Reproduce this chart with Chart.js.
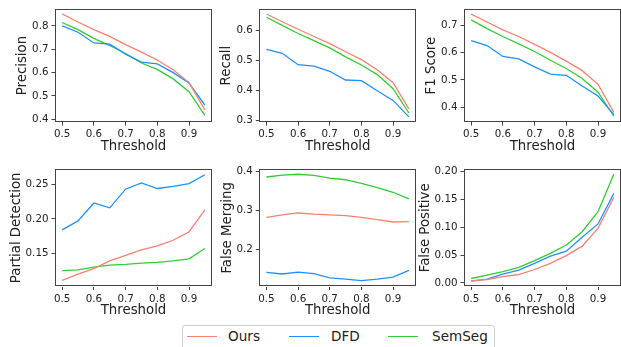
<!DOCTYPE html>
<html>
<head>
<meta charset="utf-8">
<script src="https://cdn.jsdelivr.net/npm/chart.js@4.4.1/dist/chart.umd.min.js"></script>
<style>
  body { margin: 0; background: #fff; }
  #wrap { position: relative; width: 621px; height: 347px; overflow: hidden; background: #fff; font-family: "DejaVu Sans"; }
  #wrap canvas { position: absolute; }
  #legend { position: absolute; left: 182px; top: 325px; width: 313px; height: 28px; border: 1px solid #d0d0d0; border-radius: 3px; box-sizing: border-box; background: #fff; }
  .lg-line { position: absolute; top: 10px; width: 30px; height: 0; border-top: 1.3px solid; }
  .lg-text { position: absolute; top: 1px; font-size: 13.6px; color: #222; line-height: 18px; }
</style>
</head>
<body>
<div id="wrap">
  <canvas id="c0"></canvas>
  <canvas id="c1"></canvas>
  <canvas id="c2"></canvas>
  <canvas id="c3"></canvas>
  <canvas id="c4"></canvas>
  <canvas id="c5"></canvas>
  <div id="legend">
    <div class="lg-line" style="left:4px;border-color:#fa8072"></div>
    <div class="lg-text" style="left:45px">Ours</div>
    <div class="lg-line" style="left:106px;border-color:#1e90ff"></div>
    <div class="lg-text" style="left:148px">DFD</div>
    <div class="lg-line" style="left:205px;border-color:#32cd32"></div>
    <div class="lg-text" style="left:249px">SemSeg</div>
  </div>
</div>
<script>
const thresholds = [0.5, 0.55, 0.6, 0.65, 0.7, 0.75, 0.8, 0.85, 0.9, 0.95];
const xTicks = [0.5, 0.6, 0.7, 0.8, 0.9];
const seriesNames = ["Ours", "DFD", "SemSeg"];

const precisionOurs = [0.852, 0.817, 0.784, 0.755, 0.72, 0.688, 0.654, 0.612, 0.557, 0.44];
const precisionDFD = [0.80, 0.773, 0.727, 0.722, 0.679, 0.645, 0.637, 0.60, 0.555, 0.46];
const precisionSemSeg = [0.815, 0.784, 0.747, 0.716, 0.682, 0.641, 0.614, 0.573, 0.518, 0.416];
const precisionTicks = [0.4, 0.5, 0.6, 0.7, 0.8];

const recallOurs = [0.656, 0.630, 0.605, 0.581, 0.557, 0.530, 0.504, 0.470, 0.427, 0.340];
const recallDFD = [0.538, 0.525, 0.487, 0.482, 0.465, 0.436, 0.434, 0.400, 0.368, 0.313];
const recallSemSeg = [0.645, 0.618, 0.591, 0.567, 0.543, 0.513, 0.486, 0.454, 0.407, 0.326];
const recallTicks = [0.3, 0.4, 0.5, 0.6];

const f1Ours = [0.741, 0.712, 0.683, 0.659, 0.630, 0.601, 0.569, 0.534, 0.484, 0.381];
const f1DFD = [0.644, 0.626, 0.586, 0.577, 0.548, 0.521, 0.517, 0.478, 0.441, 0.373];
const f1SemSeg = [0.720, 0.688, 0.659, 0.632, 0.604, 0.572, 0.542, 0.505, 0.455, 0.367];
const f1Ticks = [0.4, 0.5, 0.6, 0.7];

const partialOurs = [0.111, 0.120, 0.128, 0.139, 0.147, 0.155, 0.161, 0.169, 0.181, 0.213];
const partialDFD = [0.184, 0.197, 0.223, 0.216, 0.243, 0.252, 0.244, 0.247, 0.251, 0.264];
const partialSemSeg = [0.125, 0.126, 0.130, 0.133, 0.134, 0.136, 0.137, 0.139, 0.142, 0.157];
const partialTicks = [0.15, 0.20, 0.25];

const mergingOurs = [0.283, 0.289, 0.294, 0.291, 0.289, 0.287, 0.283, 0.277, 0.271, 0.272];
const mergingDFD = [0.142, 0.138, 0.143, 0.139, 0.128, 0.125, 0.121, 0.125, 0.130, 0.147];
const mergingSemSeg = [0.386, 0.391, 0.393, 0.390, 0.383, 0.379, 0.370, 0.359, 0.347, 0.330];
const mergingTicks = [0.2, 0.3, 0.4];

const fpOurs = [0.0036, 0.006, 0.011, 0.015, 0.024, 0.035, 0.049, 0.066, 0.098, 0.154];
const fpDFD = [0.003, 0.0066, 0.0156, 0.023, 0.035, 0.048, 0.057, 0.082, 0.106, 0.161];
const fpSemSeg = [0.0078, 0.014, 0.020, 0.028, 0.040, 0.053, 0.068, 0.092, 0.128, 0.196];
const fpTicks = [0.00, 0.05, 0.10, 0.15, 0.20];

const colors = ["#fa8072", "#1e90ff", "#32cd32"];

Chart.defaults.font.family = "DejaVu Sans";
Chart.defaults.color = "#222";

// full box around the plot area
const framePlugin = {
  id: "frame",
  afterDraw(chart) {
    const a = chart.chartArea;
    const ctx = chart.ctx;
    ctx.save();
    ctx.strokeStyle = "#444";
    ctx.lineWidth = 1;
    ctx.strokeRect(Math.round(a.left) + 0.5, Math.round(a.top) + 0.5,
      Math.round(a.right - a.left) - 1, Math.round(a.bottom - a.top) - 1);
    ctx.restore();
  }
};

function makeChart(id, p) {
  const canvas = document.getElementById(id);
  canvas.width = p.w;
  canvas.height = p.h;
  canvas.style.left = p.left + "px";
  canvas.style.top = p.top + "px";
  canvas.style.width = p.w + "px";
  canvas.style.height = p.h + "px";

  const datasets = p.series.map((vals, i) => ({
    label: seriesNames[i],
    data: thresholds.map((t, j) => ({ x: t, y: vals[j] })),
    borderColor: colors[i],
    borderWidth: 1.3,
    pointRadius: 0,
    tension: 0,
    fill: false,
  }));
  return new Chart(canvas, {
    type: "line",
    data: { datasets },
    plugins: [framePlugin],
    options: {
      responsive: false,
      animation: false,
      devicePixelRatio: 1,
      layout: { padding: { top: p.padTop, right: 0, left: 0, bottom: 0 } },
      plugins: { legend: { display: false }, tooltip: { enabled: false } },
      scales: {
        x: {
          type: "linear",
          min: 0.4775,
          max: 0.9725,
          afterBuildTicks: (s) => { s.ticks = xTicks.map((v) => ({ value: v })); },
          afterFit: (s) => { s.height = p.xh; },
          ticks: { callback: (v) => v.toFixed(1), font: { size: 10.3 }, padding: 3, maxRotation: 0, color: "#222" },
          grid: { drawOnChartArea: false, drawTicks: true, tickLength: 3.5, color: "#444" },
          border: { display: false },
          title: { display: true, text: "Threshold", font: { size: 13.3 }, padding: { top: 0, bottom: p.xTitlePad }, color: "#222" },
        },
        y: {
          type: "linear",
          min: p.ymin,
          max: p.ymax,
          afterBuildTicks: (s) => { s.ticks = p.yTicks.map((v) => ({ value: v })); },
          afterFit: (s) => { s.width = p.yw; },
          ticks: { callback: (v) => v.toFixed(p.dec), font: { size: 10.3 }, padding: 3, color: "#222" },
          grid: { drawOnChartArea: false, drawTicks: true, tickLength: 3.5, color: "#444" },
          border: { display: false },
          title: { display: true, text: p.title, font: { size: 13.3 }, padding: { top: p.yTitleX - 8, bottom: 0 }, color: "#222" },
        },
      },
    },
  });
}

const row1 = { top: 0, h: 160, padTop: 5, xh: 38, xTitlePad: 5.5 };
const row2 = { top: 160, h: 160, padTop: 8.5, xh: 33.5, xTitlePad: 1.5 };
const col0 = { left: 0, w: 212, yw: 55 };
const col1 = { left: 205, w: 211, yw: 54.3 };
const col2 = { left: 410, w: 211, yw: 54 };

makeChart("c0", Object.assign({}, row1, col0, { title: "Precision", yTitleX: 22.5, ymin: 0.388, ymax: 0.872, yTicks: precisionTicks, dec: 1, series: [precisionOurs, precisionDFD, precisionSemSeg] }));
makeChart("c1", Object.assign({}, row1, col1, { title: "Recall", yTitleX: 21.7, ymin: 0.296, ymax: 0.672, yTicks: recallTicks, dec: 1, series: [recallOurs, recallDFD, recallSemSeg] }));
makeChart("c2", Object.assign({}, row1, col2, { title: "F1 Score", yTitleX: 21.7, ymin: 0.346, ymax: 0.759, yTicks: f1Ticks, dec: 1, series: [f1Ours, f1DFD, f1SemSeg] }));
makeChart("c3", Object.assign({}, row2, col0, { title: "Partial Detection", yTitleX: 16.5, ymin: 0.102, ymax: 0.272, yTicks: partialTicks, dec: 2, series: [partialOurs, partialDFD, partialSemSeg] }));
makeChart("c4", Object.assign({}, row2, col1, { title: "False Merging", yTitleX: 22.5, ymin: 0.106, ymax: 0.406, yTicks: mergingTicks, dec: 1, series: [mergingOurs, mergingDFD, mergingSemSeg] }));
makeChart("c5", Object.assign({}, row2, col2, { title: "False Positive", yTitleX: 16, ymin: -0.0066, ymax: 0.2046, yTicks: fpTicks, dec: 2, series: [fpOurs, fpDFD, fpSemSeg] }));
</script>
</body>
</html>
